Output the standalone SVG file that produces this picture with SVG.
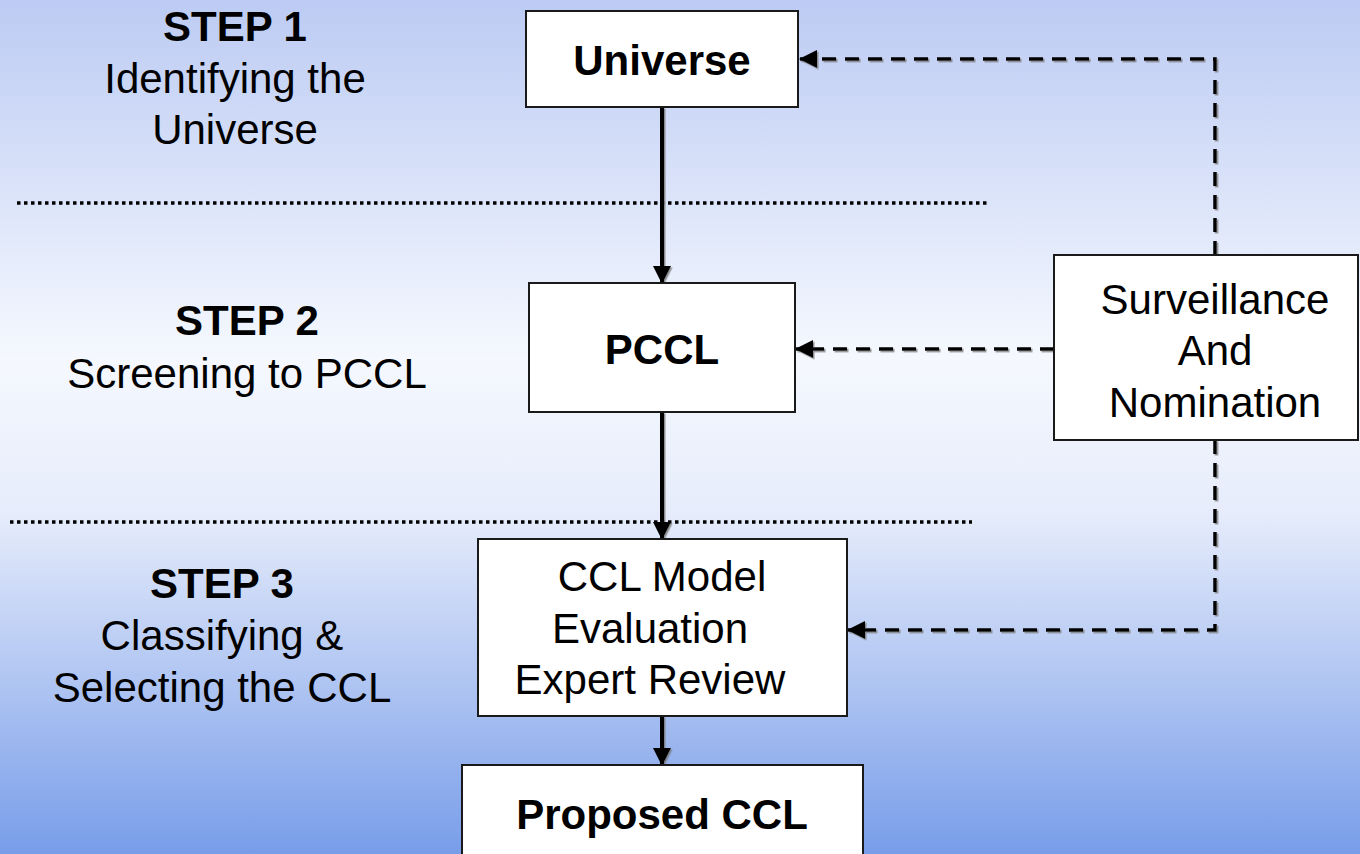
<svg xmlns="http://www.w3.org/2000/svg" width="1360" height="854" viewBox="0 0 1360 854">
<style>
.box{fill:#fff;stroke:#1a1a1a;stroke-width:2}
.t{font-family:"Liberation Sans",Arial,sans-serif;font-size:42px;fill:#000;text-anchor:middle}
.b{font-weight:bold}
.solid{stroke:#000;stroke-width:4;fill:none}
.dash{stroke:#000;stroke-width:3.5;fill:none;stroke-dasharray:14 9}
.dot{stroke:#000;stroke-width:3.5;fill:none;stroke-dasharray:3.5 3.5}
</style>
<defs>
<linearGradient id="bg" x1="0" y1="0" x2="0" y2="1">
<stop offset="0" stop-color="#bccbf3"/>
<stop offset="0.42" stop-color="#f5f8fe"/>
<stop offset="0.6" stop-color="#e6ecfb"/>
<stop offset="1" stop-color="#789de9"/>
</linearGradient>
<filter id="sh" x="-5%" y="-5%" width="110%" height="110%">
<feDropShadow dx="1.5" dy="1.5" stdDeviation="0.6" flood-color="#777" flood-opacity="0.8"/>
</filter>
<marker id="ah" markerUnits="userSpaceOnUse" markerWidth="18" markerHeight="18" viewBox="0 0 18 18" refX="17" refY="9" orient="auto">
<path d="M0,0 L18,9 L0,18 z" fill="#000"/>
</marker>
</defs>
<rect x="0" y="0" width="1360" height="854" fill="url(#bg)"/>

<g id="separators">
<line class="dot" x1="17" y1="203" x2="988" y2="203"/>
<line class="dot" x1="10" y1="522" x2="972" y2="522"/>
</g>

<g id="connectors" filter="url(#sh)">
<line class="solid" x1="662" y1="107" x2="662" y2="283" marker-end="url(#ah)"/>
<line class="solid" x1="662" y1="412" x2="662" y2="539" marker-end="url(#ah)"/>
<line class="solid" x1="662" y1="716" x2="662" y2="765" marker-end="url(#ah)"/>
<polyline class="dash" points="1215,255 1215,59 800,59" marker-end="url(#ah)"/>
<line class="dash" x1="1054" y1="349" x2="796" y2="349" marker-end="url(#ah)"/>
<polyline class="dash" points="1215,440 1215,630 848,630" marker-end="url(#ah)"/>
</g>

<g id="step1">
<text class="t b" x="235" y="41">STEP 1</text>
<text class="t" x="235" y="93">Identifying the</text>
<text class="t" x="235" y="144">Universe</text>
</g>
<g id="step2">
<text class="t b" x="247" y="335">STEP 2</text>
<text class="t" x="247" y="388">Screening to PCCL</text>
</g>
<g id="step3">
<text class="t b" x="222" y="598">STEP 3</text>
<text class="t" x="222" y="650">Classifying &amp;</text>
<text class="t" x="222" y="702">Selecting the CCL</text>
</g>

<g id="universe">
<rect class="box" x="526" y="11" width="272" height="96"/>
<text class="t b" x="662" y="75">Universe</text>
</g>
<g id="pccl">
<rect class="box" x="529" y="283" width="266" height="129"/>
<text class="t b" x="662" y="364">PCCL</text>
</g>
<g id="surveillance">
<rect class="box" x="1054" y="255" width="304" height="185"/>
<text class="t" x="1215" y="314">Surveillance</text>
<text class="t" x="1215" y="365">And</text>
<text class="t" x="1215" y="417">Nomination</text>
</g>
<g id="ccl-model">
<rect class="box" x="478" y="539" width="369" height="177"/>
<text class="t" x="662" y="591">CCL Model</text>
<text class="t" x="650" y="643">Evaluation</text>
<text class="t" x="650" y="694">Expert Review</text>
</g>
<g id="proposed">
<rect class="box" x="462" y="765" width="401" height="100"/>
<text class="t b" x="662" y="829">Proposed CCL</text>
</g>
</svg>
